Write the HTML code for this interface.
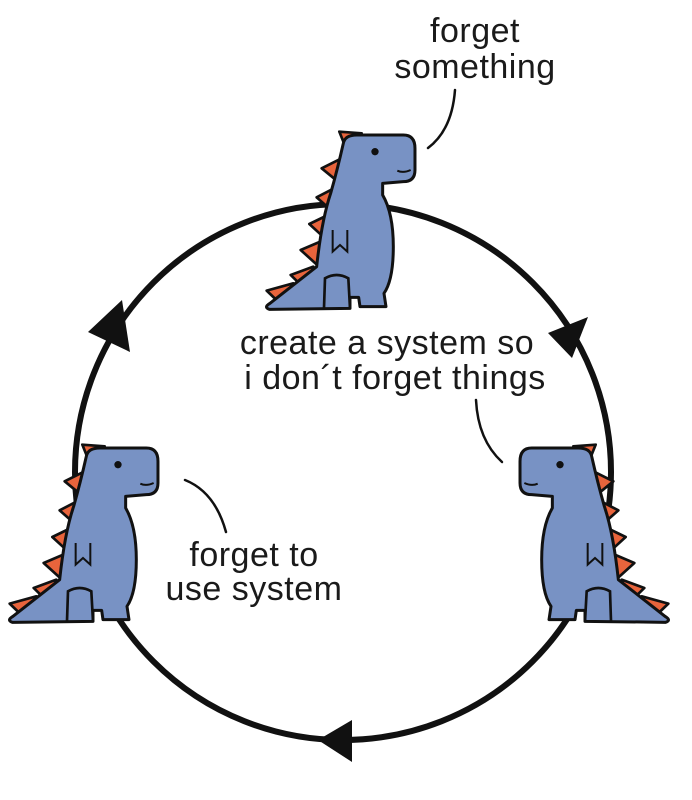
<!DOCTYPE html>
<html><head><meta charset="utf-8"><style>
html,body{margin:0;padding:0;background:#fff}
svg{display:block}
text{font-family:"Liberation Sans",sans-serif;font-size:34px;fill:#1a1a1a;letter-spacing:0.5px}
</style></head><body>
<svg width="692" height="800" viewBox="0 0 692 800">
<defs>
<g id="dino">
  <g fill="#e8643c" stroke="#111" stroke-width="8" stroke-linejoin="round">
    <path d="M262 95 L238 35 L305 40 L295 80 Z"/>
    <path d="M245 115 L185 145 L240 190 Z"/>
    <path d="M228 202 L170 232 L222 278 Z"/>
    <path d="M210 282 L148 312 L198 358 Z"/>
    <path d="M188 362 L122 390 L175 438 Z"/>
    <path d="M160 440 L92 465 L140 512 Z"/>
    <path d="M100 490 L20 512 L68 558 Z"/>
  </g>
  <path d="M250 70 Q255 45 290 45 L430 45 Q465 45 465 85 L465 150 Q465 185 430 185 L368 190 L368 225 Q400 280 400 380 Q400 480 372 520 L378 560 L300 560 L296 532 L270 532 L270 565 L28 568 Q10 562 30 550 L170 440 Q185 300 212 220 Q232 150 250 70 Z" fill="#7892c4" stroke="#111" stroke-width="9" stroke-linejoin="round"/>
  <path d="M192 565 L195 475 Q230 455 265 475 L270 565" fill="none" stroke="#111" stroke-width="8"/>
  <path d="M218 330 L218 395 L240 375 L262 395 L262 330" fill="none" stroke="#111" stroke-width="6"/>
  <circle cx="345" cy="95" r="11" fill="#111"/>
  <path d="M412 152 Q430 160 452 150" fill="none" stroke="#111" stroke-width="6"/>
</g>
</defs>
<circle cx="343" cy="472" r="268" fill="none" stroke="#111" stroke-width="6"/>
<polygon points="88,332 130,352 122,300" fill="#111"/>
<polygon points="548,333 588,317 572,358" fill="#111"/>
<polygon points="318,740 352,720 352,762" fill="#111"/>
<use href="#dino" transform="translate(260,120) scale(0.3333)"/>
<use href="#dino" transform="translate(3,433) scale(0.3333)"/>
<use href="#dino" transform="translate(675,433) scale(-0.3333,0.3333)"/>
<g fill="none" stroke="#111" stroke-width="2.5" stroke-linecap="round">
<path d="M455 90 Q452 130 428 148"/>
<path d="M476 400 Q478 440 502 462"/>
<path d="M185 480 Q215 492 226 532"/>
</g>
<text x="475" y="42" text-anchor="middle">forget</text>
<text x="475" y="78" text-anchor="middle">something</text>
<text x="387" y="354" text-anchor="middle">create a system so</text>
<text x="395" y="389" text-anchor="middle">i don´t forget things</text>
<text x="254" y="566" text-anchor="middle">forget to</text>
<text x="254" y="600" text-anchor="middle">use system</text>
</svg>
</body></html>
